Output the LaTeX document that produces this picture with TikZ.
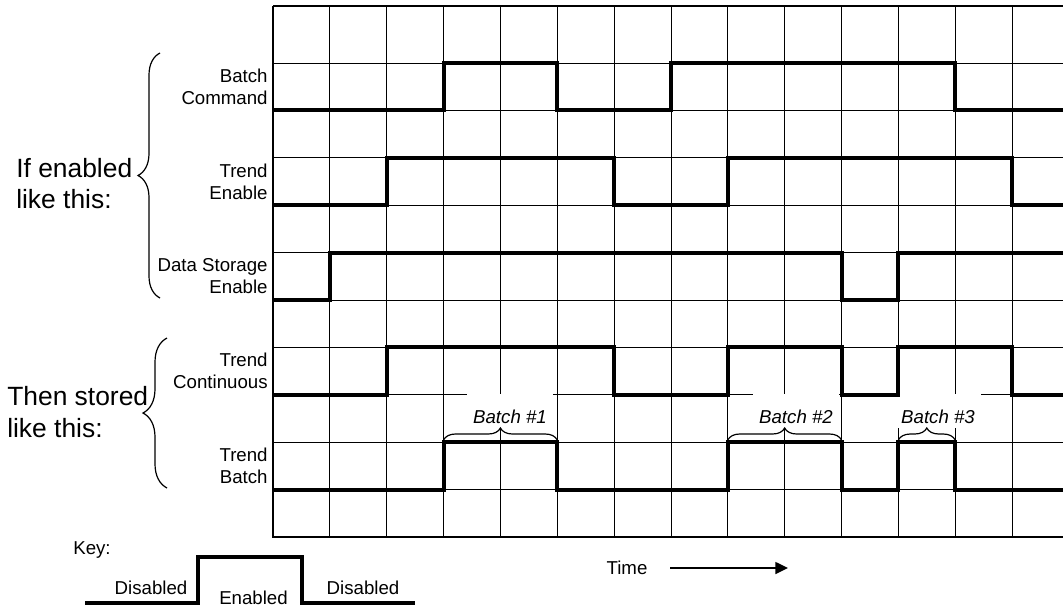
\documentclass[tikz,border=0pt]{standalone}
\usepackage{fontspec}
\setmainfont{Liberation Sans}
\usetikzlibrary{arrows.meta,decorations.pathreplacing}

\begin{document}
\begin{tikzpicture}[x=0.75pt, y=-0.75pt,
    timing/.style={shift={(273,63)}, x=42.64pt, y=-35.55pt},
    gridline/.style={line width=0.6pt},
    border/.style={line width=1.5pt},
    wave/.style={line width=3pt},
    sig/.style={font=\fontsize{14}{16.5}\selectfont, align=right, anchor=east, inner sep=0pt},
    group/.style={font=\fontsize{19.8}{23.6}\selectfont, align=left, anchor=west, inner sep=0pt},
    batch/.style={font=\fontsize{14}{16.5}\selectfont\itshape, fill=white, inner sep=0pt, text height=22pt, text depth=3.4pt, minimum width=64.5pt, anchor=base},
    curly/.style={decorate, decoration={brace, amplitude=#1}, line width=0.9pt},
    key/.style={font=\fontsize{14}{16.5}\selectfont, inner sep=0pt},
    timeline/.style={line width=1.1pt, -{Triangle[length=9.5pt, width=9pt]}},
  ]
  \useasboundingbox (0,0) rectangle (1063,607);
  \clip (0,0) rectangle (1063,607);

  % grid
  \begin{scope}[timing]
    \foreach \i in {1,...,13}
      \draw [gridline] (\i,-1.2) -- (\i,10);
    \foreach \j in {0,...,9}
      \draw [gridline] (0,\j) -- (14.2,\j);
    \draw [line width=1.1pt] (0,-1.2) -- (14.2,-1.2);
    \draw [border] (0,-1.2) -- (0,10) -- (14.2,10);
  \end{scope}

  % batch labels
  \node [batch] (b1) at (510,423.5) {Batch \#1};
  \node [batch] (b2) at (796,423.5) {Batch \#2};
  \node [batch] (b3) at (938,423.5) {Batch \#3};
  \draw [curly=9pt] (443.55,440) -- (557.25,440);
  \draw [curly=9pt] (727.8,440) -- (841.5,440);
  \draw [curly=9pt] (898.35,440) -- (955.2,440);

  % signals
  \begin{scope}[timing]
    \draw [wave] (0,1) -- (3,1) -- (3,0) -- (5,0) -- (5,1) -- (7,1) -- (7,0) -- (12,0) -- (12,1) -- (14.2,1);
    \draw [wave] (0,3) -- (2,3) -- (2,2) -- (6,2) -- (6,3) -- (8,3) -- (8,2) -- (13,2) -- (13,3) -- (14.2,3);
    \draw [wave] (0,5) -- (1,5) -- (1,4) -- (10,4) -- (10,5) -- (11,5) -- (11,4) -- (14.2,4);
    \draw [wave] (0,7) -- (2,7) -- (2,6) -- (6,6) -- (6,7) -- (8,7) -- (8,6) -- (10,6) -- (10,7) -- (11,7) -- (11,6) -- (13,6) -- (13,7) -- (14.2,7);
    \draw [wave] (0,9) -- (3,9) -- (3,8) -- (5,8) -- (5,9) -- (8,9) -- (8,8) -- (10,8) -- (10,9) -- (11,9) -- (11,8) -- (12,8) -- (12,9) -- (14.2,9);

    \node [sig] (cmd) at (-0.09,0.5) {Batch\\Command};
    \node [sig] (trendEn) at (-0.09,2.5) {Trend\\Enable};
    \node [sig] (storeEn) at (-0.09,4.5) {Data Storage\\Enable};
    \node [sig] (trendCont) at (-0.09,6.5) {Trend\\Continuous};
    \node [sig] (trendBatch) at (-0.09,8.5) {Trend\\Batch};
  \end{scope}

  % groups
  \draw [curly=16.5pt] (160,298) -- (160,53);
  \draw [curly=18pt] (167,488) -- (167,338);
  \node [group] (enabled) at (16,183.4) {If enabled\\like this:};
  \node [group] (stored) at (7,412) {Then stored\\like this:};

  % key
  \node [key] (keyhd) at (92,550) {Key:};
  \draw [wave] (85,603) -- (198,603) -- (198,557) -- (302,557) -- (302,603) -- (415,603);
  \node [key] (off1) at (151,588) {Disabled};
  \node [key] (on) at (253.5,598) {Enabled};
  \node [key] (off2) at (363,588) {Disabled};

  % time axis
  \node [key] (time) at (627,568) {Time};
  \coordinate (tend) at (788,568);
  \draw [timeline, shorten <=17pt] (time.east) -- (tend);
\end{tikzpicture}
\end{document}
